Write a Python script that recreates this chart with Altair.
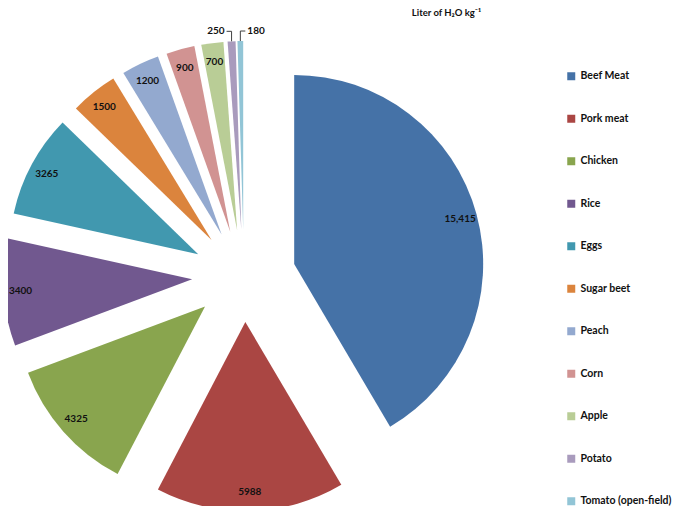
import altair as alt
import pandas as pd

foods = ["Beef Meat", "Pork meat", "Chicken", "Rice", "Eggs", "Sugar beet",
         "Peach", "Corn", "Apple", "Potato", "Tomato (open-field)"]
water = [15415, 5988, 4325, 3400, 3265, 1500, 1200, 900, 700, 250, 180]
labels = ["15,415", "5988", "4325", "3400", "3265", "1500", "1200", "900", "700", "250", "180"]
outside = [False, False, False, False, False, False, False, False, False, True, True]
colors = ["#4572A7", "#AA4643", "#89A54E", "#71588F", "#4198AF", "#DB843D",
          "#93A9CF", "#D19392", "#B9CD96", "#A99BBD", "#92C5D6"]

CX, CY = 236, 254   # pie centre (px)
DX, DY = 52, 46     # explode distance
R = 189             # slice radius
LX, LY = 172, 170   # label distance from slice apex

df = pd.DataFrame({"food": foods, "water": water, "label": labels,
                   "outside": outside, "order": list(range(len(foods)))})

base = (
    alt.Chart(df)
    .transform_window(cum="sum(water)", sort=[alt.SortField("order")])
    .transform_joinaggregate(total="sum(water)")
    .transform_calculate(
        t0="(datum.cum - datum.water) / datum.total * 2 * PI",
        t1="datum.cum / datum.total * 2 * PI",
    )
    .transform_calculate(mid="(datum.t0 + datum.t1) / 2")
    .transform_calculate(
        cx=f"{CX} + {DX} * sin(datum.mid)",
        cy=f"{CY} - {DY} * cos(datum.mid)",
    )
    .transform_calculate(
        lx=f"datum.cx + {LX} * sin(datum.mid)",
        ly=f"datum.cy - {LY} * cos(datum.mid)",
        ox=f"datum.cx + {R} * sin(datum.mid)",
        oy=f"datum.cy - {R} * cos(datum.mid)",
    )
)

arcs = base.mark_arc(radius=R).encode(
    x=alt.X("cx:Q", scale=None, axis=None),
    y=alt.Y("cy:Q", scale=None, axis=None),
    theta=alt.Theta("t0:Q", scale=None, stack=False),
    theta2="t1:Q",
    color=alt.Color(
        "food:N",
        scale=alt.Scale(domain=foods, range=colors),
        legend=alt.Legend(
            orient="none", legendX=558, legendY=49, title=None,
            symbolType="square", symbolSize=64, symbolStrokeWidth=0,
            labelFont="Lato", labelFontWeight="bold", labelFontSize=10.5,
            labelColor="#111111", rowPadding=31.5, padding=0, labelLimit=200,
        ),
    ),
)

inside_text = base.transform_filter("!datum.outside").mark_text(
    font="Lato", fontWeight="bold", fontSize=10, color="#111111"
).encode(
    x=alt.X("lx:Q", scale=None, axis=None),
    y=alt.Y("ly:Q", scale=None, axis=None),
    text="label:N",
)

out = (
    base.transform_filter("datum.outside")
    .transform_window(rn="row_number()", sort=[alt.SortField("order")])
    .transform_calculate(side="datum.rn == 1 ? -1 : 1")
    .transform_calculate(ey="datum.oy - 10", ex="datum.ox + datum.side * 5")
    .transform_calculate(tx="datum.ex + datum.side * 2")
)

vline = out.mark_rule(color="#404040", strokeWidth=1).encode(
    x=alt.X("ox:Q", scale=None, axis=None),
    x2="ox:Q",
    y=alt.Y("oy:Q", scale=None, axis=None),
    y2="ey:Q",
)
hline = out.mark_rule(color="#404040", strokeWidth=1).encode(
    x=alt.X("ox:Q", scale=None, axis=None),
    x2="ex:Q",
    y=alt.Y("ey:Q", scale=None, axis=None),
    y2="ey:Q",
)
out_left = out.transform_filter("datum.side < 0").mark_text(
    font="Lato", fontWeight="bold", fontSize=10, color="#111111", align="right", baseline="middle"
).encode(
    x=alt.X("tx:Q", scale=None, axis=None),
    y=alt.Y("ey:Q", scale=None, axis=None),
    text="label:N",
)
out_right = out.transform_filter("datum.side > 0").mark_text(
    font="Lato", fontWeight="bold", fontSize=10, color="#111111", align="left", baseline="middle"
).encode(
    x=alt.X("tx:Q", scale=None, axis=None),
    y=alt.Y("ey:Q", scale=None, axis=None),
    text="label:N",
)

chart = (
    alt.layer(arcs, inside_text, vline, hline, out_left, out_right)
    .properties(
        width=669, height=484,
        view=alt.ViewBackground(stroke="transparent", strokeWidth=0, fill="white"),
        title=alt.TitleParams("Liter of H₂O kg⁻¹", font="Lato", fontWeight="bold",
                              fontSize=9.5, color="#111111", anchor="middle", dx=104, offset=5),
        autosize=alt.AutoSizeParams(type="none"),
        padding={"top": 14, "left": 0, "right": 0, "bottom": 0},
    )
    .configure_view(stroke="transparent", strokeWidth=0, strokeOpacity=0)
    .configure_axis(disable=True)
    .configure(background="white")
)

chart.save("out.html", embed_options={"renderer": "svg", "actions": False})
